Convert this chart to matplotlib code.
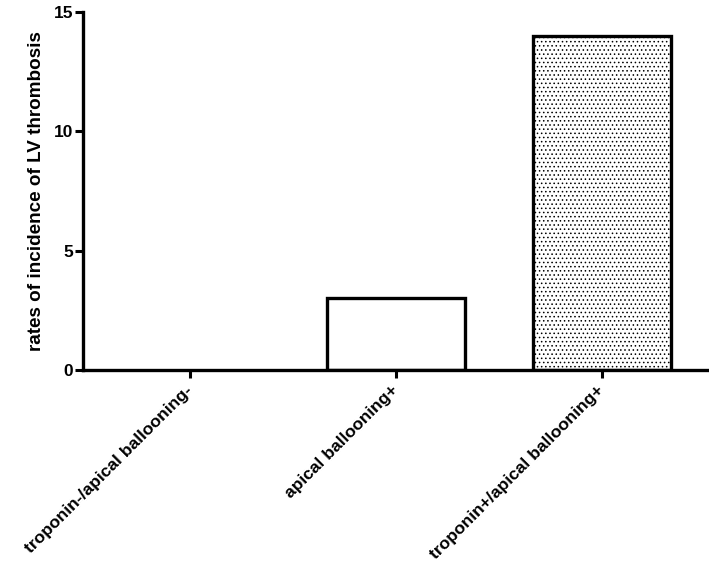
import matplotlib
matplotlib.use('Agg')
import matplotlib.pyplot as plt

categories = ['troponin-/apical ballooning-', 'apical ballooning+', 'troponin+/apical ballooning+']
rates = [0, 3, 14]
hatches = ['', '', '....']
y_ticks = [0, 5, 10, 15]

plt.rcParams['font.family'] = ['Liberation Sans', 'DejaVu Sans']
plt.rcParams['font.weight'] = 'bold'
plt.rcParams['hatch.linewidth'] = 0.6
plt.rcParams['hatch.color'] = '#808080'

fig = plt.figure(figsize=(7.09, 5.70), dpi=100)
ax = fig.add_axes([0.117, 0.351, 0.883, 0.628])

x = range(len(categories))
for i, (v, h) in enumerate(zip(rates, hatches)):
    if v > 0:
        ax.bar(i, v, width=0.67, color='white', edgecolor='black', linewidth=2.4, hatch=h, zorder=2)

ax.set_xlim(-0.52, 2.52)
ax.set_ylim(0, 15)
ax.set_yticks(y_ticks)
ax.set_xticks(list(x))
ax.set_xticklabels(categories, rotation=45, ha='right', va='center', rotation_mode='anchor',
                   fontsize=12.6, fontweight='bold')
ax.set_ylabel('rates of incidence of LV thrombosis', fontsize=13.6, fontweight='bold', labelpad=6)
for lab in ax.get_yticklabels():
    lab.set_fontsize(12.5)
    lab.set_fontweight('bold')

for s in ['top', 'right']:
    ax.spines[s].set_visible(False)
for s in ['left', 'bottom']:
    ax.spines[s].set_linewidth(2.4)
ax.tick_params(axis='both', width=2.2, length=6)
ax.tick_params(axis='y', pad=1)
ax.tick_params(axis='x', pad=7)

plt.savefig('out.png', dpi=100)
